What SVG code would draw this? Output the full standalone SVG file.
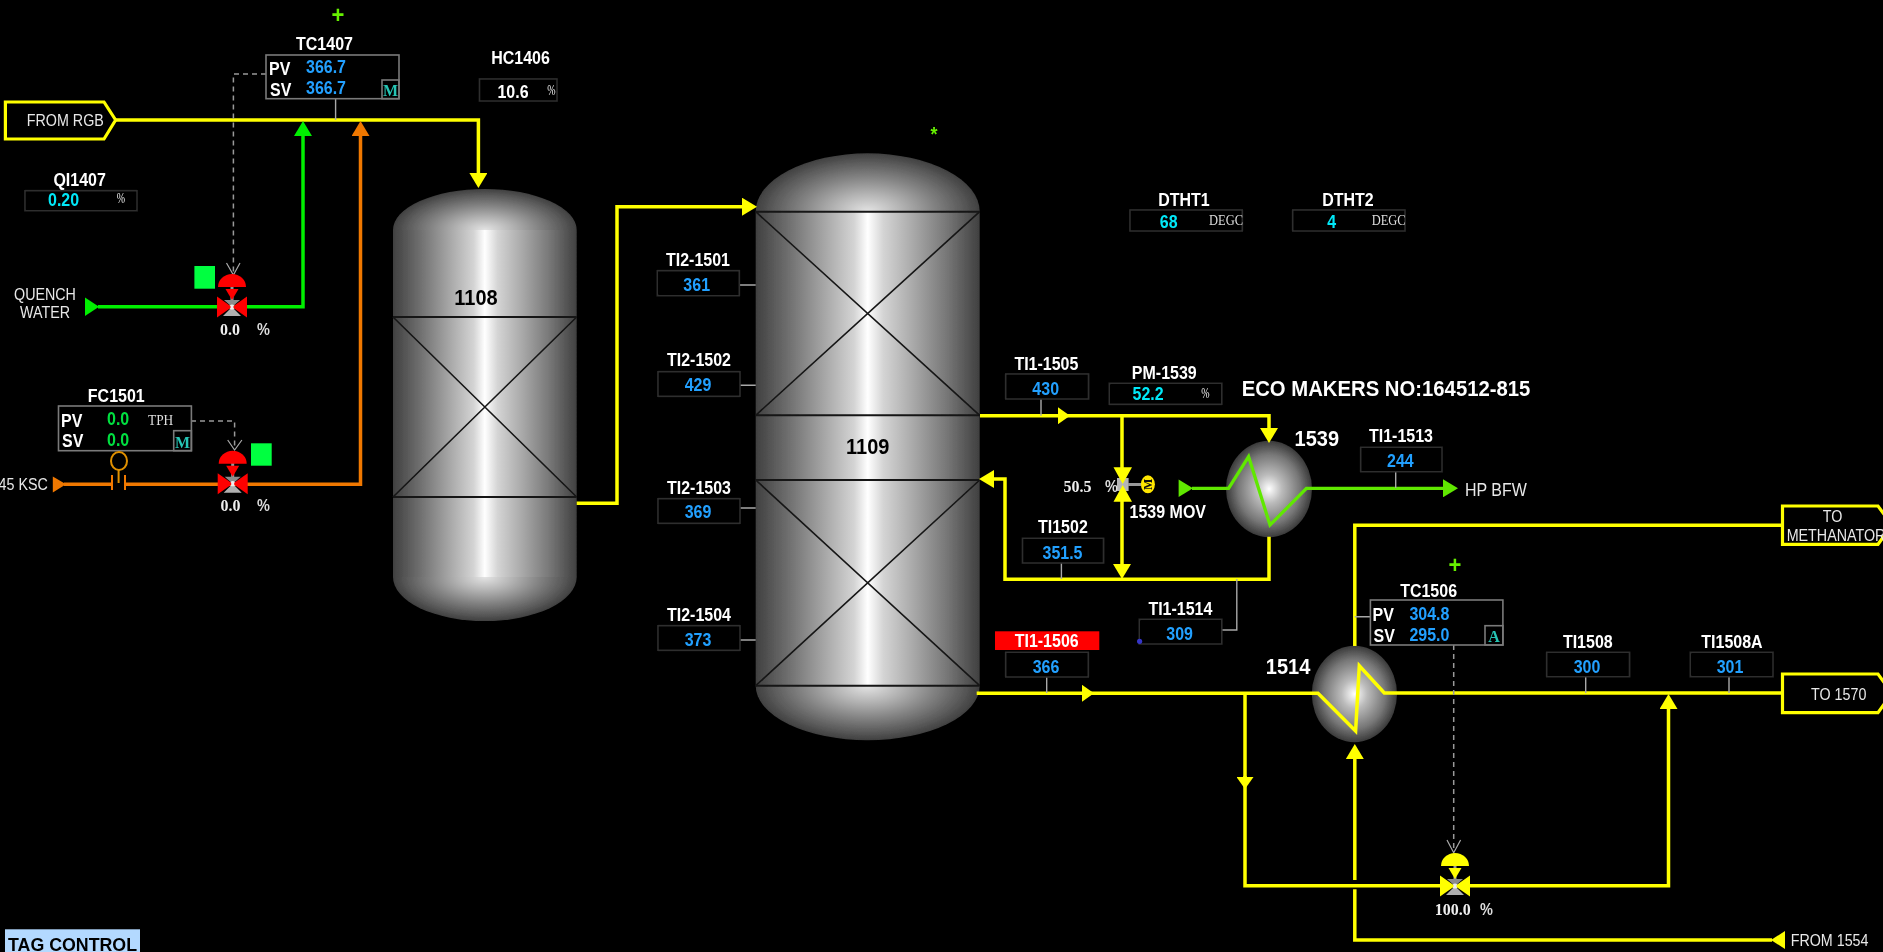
<svg xmlns="http://www.w3.org/2000/svg" xmlns:xlink="http://www.w3.org/1999/xlink" width="1883" height="952" viewBox="0 0 1883 952">
<style>
text{font-family:"Liberation Sans",Arial,sans-serif;transform-box:fill-box;transform-origin:center;transform:scaleY(1.1)}
.l{font-weight:700;font-size:16px;fill:#fff}
.m{text-anchor:middle}
.r{font-size:14.3px;fill:#e8e8e8}
.v{font-weight:700;font-size:16px;fill:#22a0ff}
.c{font-weight:700;font-size:16px;fill:#00e8f8}
.g{font-weight:700;font-size:16px;fill:#00e040}
.s{font-family:"Liberation Serif",serif;font-size:12.5px;fill:#ddd}
.n{font-family:"Liberation Serif",serif;font-weight:700;font-size:16px;fill:#eee}
.p{font-weight:700;font-size:14.5px;fill:#ddd}
.u{font-family:"Liberation Serif",serif;font-size:10px;fill:#eee;text-anchor:middle;transform:scaleY(1.45)}
.t{font-family:"Liberation Serif",serif;font-weight:700;font-size:16px;fill:#25c4b4;text-anchor:middle}
.k{font-weight:700;font-size:20px;fill:#000;text-anchor:middle}
.w{font-weight:700;font-size:20px;fill:#fff}
.pl{font-weight:700;font-size:22px;fill:#66f000;text-anchor:middle}
.box{fill:#000;stroke:#2e2e2e;stroke-width:1.6}
.ctl{fill:none;stroke:#7a7a7a;stroke-width:1.6}
.tie{stroke:#a8a8a8;stroke-width:1.4;fill:none}
.dash{stroke:#999;stroke-width:1.5;fill:none;stroke-dasharray:5 4}
.chev{stroke:#aaa;stroke-width:1.2;fill:none}
.y{stroke:#ff0;stroke-width:3.5;fill:none}
.gn{stroke:#00f000;stroke-width:3.5;fill:none}
.lg{stroke:#60e800;stroke-width:3.3;fill:none}
.o{stroke:#f07800;stroke-width:3.5;fill:none}
.ves{stroke:#161616;fill:none}
</style>
<defs>
<filter id="soft" x="0" y="0" width="100%" height="100%" filterUnits="objectBoundingBox"><feGaussianBlur stdDeviation="0.4"/></filter>
<linearGradient id="body" x1="0" y1="0" x2="1" y2="0">
<stop offset="0" stop-color="#404040"/><stop offset=".15" stop-color="#707070"/><stop offset=".3" stop-color="#a4a4a4"/><stop offset=".44" stop-color="#d4d4d4"/><stop offset=".5" stop-color="#fff"/><stop offset=".57" stop-color="#d4d4d4"/><stop offset=".7" stop-color="#aaa"/><stop offset=".85" stop-color="#787878"/><stop offset="1" stop-color="#404040"/>
</linearGradient>
<radialGradient id="domeT" cx=".5" cy="1" r="1" gradientTransform="translate(.5 1) scale(.5 1) translate(-.5 -1)">
<stop offset="0" stop-color="#e4e4e4"/><stop offset=".3" stop-color="#b4b4b4"/><stop offset=".6" stop-color="#828282"/><stop offset=".85" stop-color="#5a5a5a"/><stop offset="1" stop-color="#404040"/>
</radialGradient>
<radialGradient id="domeB" cx=".5" cy="0" r="1" gradientTransform="translate(.5 0) scale(.5 1) translate(-.5 0)">
<stop offset="0" stop-color="#e4e4e4"/><stop offset=".3" stop-color="#b4b4b4"/><stop offset=".6" stop-color="#828282"/><stop offset=".85" stop-color="#5a5a5a"/><stop offset="1" stop-color="#404040"/>
</radialGradient>
<radialGradient id="hx"><stop offset="0" stop-color="#fff"/><stop offset=".3" stop-color="#bbb"/><stop offset=".72" stop-color="#777"/><stop offset="1" stop-color="#3a3a3a"/></radialGradient>
<marker id="ay" markerUnits="userSpaceOnUse" markerWidth="16" markerHeight="18" viewBox="0 0 16 18" refX="0" refY="9" orient="auto"><path d="M0 0L15 9L0 18Z" fill="#ff0"/></marker>
<marker id="ys" markerUnits="userSpaceOnUse" markerWidth="13" markerHeight="17" viewBox="0 0 13 17" refX="0" refY="8.5" orient="auto"><path d="M0 0L12 8.5L0 17Z" fill="#ff0"/></marker>
<marker id="ag" markerUnits="userSpaceOnUse" markerWidth="16" markerHeight="18" viewBox="0 0 16 18" refX="0" refY="9" orient="auto"><path d="M0 0L15 9L0 18Z" fill="#00f000"/></marker>
<marker id="al" markerUnits="userSpaceOnUse" markerWidth="16" markerHeight="18" viewBox="0 0 16 18" refX="0" refY="9" orient="auto"><path d="M0 0L15 9L0 18Z" fill="#60e800"/></marker>
<marker id="ao" markerUnits="userSpaceOnUse" markerWidth="16" markerHeight="18" viewBox="0 0 16 18" refX="0" refY="9" orient="auto"><path d="M0 0L15 9L0 18Z" fill="#f07800"/></marker>
<g id="valve">
<rect x="-1.5" y="-22" width="3" height="18" fill="#999"/>
<path d="M-14 -20A14 13 0 0 1 14 -20Z" fill="currentColor"/>
<path d="M-6.5 -18H6.5L0 -7Z" fill="currentColor"/>
<path d="M-8 -7H8L0 0Z" fill="#8c8c8c"/>
<path d="M-9 9H9L0 0Z" fill="#b0b0b0"/>
<circle r="2.6" fill="#eee"/>
<path d="M-15 -10.5V10.5L-1.5 1V-1ZM15 -10.5V10.5L1.5 1V-1Z" fill="currentColor"/>
</g>
</defs>
<rect width="1883" height="952" fill="#000"/>
<g filter="url(#soft)">

<g id="vessel-1108">
<path d="M393 230A91.8 41 0 0 1 576.7 230Z" fill="url(#domeT)"/>
<rect x="393" y="230" width="183.7" height="347" fill="url(#body)"/>
<path d="M393 577A91.8 44 0 0 0 576.7 577Z" fill="url(#domeB)"/>
<path class="ves" stroke-width="2" d="M393 317H576.7M393 497H576.7"/>
<path class="ves" stroke-width="1.6" d="M393 317L576.7 497M576.7 317L393 497"/>
<text class="k" x="476" y="304">1108</text>
</g>
<g id="vessel-1109">
<path d="M755.7 211.7A112 58.4 0 0 1 979.7 211.7Z" fill="url(#domeT)"/>
<rect x="755.7" y="211.7" width="224" height="474" fill="url(#body)"/>
<path d="M755.7 685.7A112 54.5 0 0 0 979.7 685.7Z" fill="url(#domeB)"/>
<path class="ves" stroke-width="2" d="M755.7 211.7H979.7M755.7 415.3H979.7M755.7 480H979.7M755.7 685.7H979.7"/>
<path class="ves" stroke-width="1.6" d="M755.7 211.7L979.7 415.3M979.7 211.7L755.7 415.3M755.7 480L979.7 685.7M979.7 480L755.7 685.7"/>
<text class="k" x="867.7" y="453">1109</text>
</g>
<g id="hx-1539"><ellipse cx="1269" cy="489" rx="43" ry="48.2" fill="url(#hx)"/></g>
<g id="hx-1514"><ellipse cx="1354.4" cy="694" rx="42.6" ry="48.2" fill="url(#hx)"/></g>

<g id="connectors">
<path class="y" d="M116 120H478.4V173" marker-end="url(#ay)"/>
<path class="gn" d="M98 306.7H303V136" marker-end="url(#ag)"/>
<polygon points="85,297.5 99,306.7 85,316" fill="#00f000"/>
<path class="o" d="M64 484.3H112M125 484.3H360.5V136" marker-end="url(#ao)"/>
<polygon points="52.8,476.5 66,484.3 52.8,492.5" fill="#f07800"/>
<path class="y" d="M576.7 503.3H617V206.7H742" marker-end="url(#ay)"/>
<path class="y" d="M980 415.7H1058" marker-end="url(#ys)"/>
<path class="y" d="M1058 415.7H1269V428" marker-end="url(#ay)"/>
<path class="y" d="M1122 415.7V470"/>
<path class="y" d="M1122 498V564" marker-end="url(#ay)"/>
<path class="y" d="M1269 536.7V579.3H1005V479H994" marker-end="url(#ay)"/>
<path class="lg" d="M1192 488.3H1228.6L1248.6 456.7L1270 525L1306.4 488.3H1443" marker-end="url(#al)"/>
<polygon points="1178.6,479.5 1193,488.3 1178.6,497" fill="#60e800"/>
<path class="y" d="M976.7 693.3H1082" marker-end="url(#ys)"/>
<path class="y" d="M1082 693.3H1318L1355.6 731L1359.3 665.7L1384.3 693H1782"/>
<path class="y" d="M1354.8 646V525.3H1782.5"/>
<path class="y" d="M1245 693V885.7H1441"/>
<path class="y" d="M1245 776V777" marker-end="url(#ys)"/>
<path class="y" d="M1470 885.7H1668.5V709" marker-end="url(#ay)"/>
<path class="y" d="M1354.8 880V759" marker-end="url(#ay)"/>
<path class="y" d="M1354.8 889.3V940H1772"/>
<polygon points="1771,940 1785,931 1785,949" fill="#ff0"/>
<path class="dash" d="M266 74H233.4V272"/>
<path class="chev" d="M226.5 263L233.4 275L240 263"/>
<path class="dash" d="M191 421H234.6V448"/>
<path class="chev" d="M227.7 440L234.6 450L241.9 440"/>
<path class="dash" d="M1453.7 645V850"/>
<path class="chev" d="M1447 840L1453.7 852.7L1460.6 840"/>
<path class="tie" d="M335.6 98.7V120"/>
<path class="tie" d="M739 285H755.7M740 385.3H755.7M740 508H755.7M740 640H755.7"/>
<path class="tie" d="M1041 399V415.7M1046.7 677V693M1395.7 471.7V488M1061.4 563V579M1221.8 630H1236.8V579M1354.8 616.7H1370.4M1585.7 676.7V693M1729 676.7V693"/>
</g>

<g id="from-rgb">
<polygon points="5.4,102 104,102 115.6,120 104,139 5.4,139" fill="#000" stroke="#ff0" stroke-width="3.2"/>
<text class="r" x="26.8" y="125.5">FROM RGB</text>
</g>
<g id="to-methanator">
<polygon points="1782.5,506 1878,506 1892,525 1878,544.3 1782.5,544.3" fill="#000" stroke="#ff0" stroke-width="3.2"/>
<text class="r" x="1832.6" y="521.5" text-anchor="middle">TO</text>
<text class="r" x="1786.7" y="540">METHANATOR</text>
</g>
<g id="to-1570">
<polygon points="1782.5,674 1878,674 1892,693.3 1878,712.7 1782.5,712.7" fill="#000" stroke="#ff0" stroke-width="3.2"/>
<text class="r" x="1811" y="699">TO 1570</text>
</g>
<g id="from-1554"><text class="r" x="1790.7" y="945">FROM 1554</text></g>
<g id="quench-water">
<text class="r m" x="45" y="299">QUENCH</text>
<text class="r m" x="45" y="317.7">WATER</text>
</g>
<g id="ksc45"><text class="r" x="47.8" y="489.3" text-anchor="end">45 KSC</text></g>
<g id="hp-bfw"><text class="r" x="1465" y="495.7" style="font-size:16px">HP BFW</text></g>

<g id="tc1407">
<text class="pl" x="338" y="22">+</text>
<text class="l m" x="324.5" y="49.5">TC1407</text>
<rect class="ctl" x="266" y="55" width="133" height="43.7" fill="#000"/>
<rect class="ctl" x="382" y="80" width="17" height="18.7"/>
<text class="l" x="269" y="74.5">PV</text>
<text class="l" x="270" y="95">SV</text>
<text class="v" x="306" y="72.5">366.7</text>
<text class="v" x="306" y="93.5">366.7</text>
<text class="t" x="390.5" y="95">M</text>
</g>
<g id="hc1406">
<text class="l m" x="520.5" y="63">HC1406</text>
<rect class="box" x="479.5" y="79" width="77.5" height="22"/>
<text class="l" x="497.5" y="97">10.6</text>
<text class="u" x="551.5" y="93.5">%</text>
</g>
<g id="qi1407">
<text class="l m" x="79.6" y="185">QI1407</text>
<rect class="box" x="25" y="190.7" width="112" height="20"/>
<text class="c" x="48" y="205.5">0.20</text>
<text class="u" x="121" y="202">%</text>
</g>
<g id="fc1501">
<text class="l m" x="116.3" y="401.5">FC1501</text>
<rect class="ctl" x="58.5" y="406" width="132.9" height="44.7" fill="#000"/>
<rect class="ctl" x="173.7" y="430.7" width="17.7" height="20"/>
<text class="l" x="61" y="426">PV</text>
<text class="l" x="62" y="446.5">SV</text>
<text class="g" x="107" y="424">0.0</text>
<text class="g" x="107" y="445.5">0.0</text>
<text class="s" x="148" y="425" style="font-size:13.4px">TPH</text>
<text class="t" x="182.5" y="447">M</text>
</g>
<g id="orifice">
<path d="M112 475V490M125 475V490" stroke="#f07800" stroke-width="2" fill="none"/>
<path d="M118.6 470V483" stroke="#e09000" stroke-width="2" fill="none"/>
<ellipse cx="119" cy="461" rx="8" ry="9" fill="none" stroke="#e09000" stroke-width="2"/>
</g>
<g id="valve-quench">
<rect x="194.4" y="266" width="20.6" height="22.7" fill="#00ff40"/>
<use xlink:href="#valve" href="#valve" transform="translate(232 307)" color="#ff0000"/>
<text class="n" x="220" y="334">0.0</text>
<text class="p" x="257" y="334">%</text>
</g>
<g id="valve-fc1501">
<rect x="251" y="443.3" width="20.7" height="22.4" fill="#00ff40"/>
<use xlink:href="#valve" href="#valve" transform="translate(232.7 483.7)" color="#ff0000"/>
<text class="n" x="220.5" y="510.5">0.0</text>
<text class="p" x="257" y="510.5">%</text>
</g>
<g id="valve-tc1506">
<use xlink:href="#valve" href="#valve" transform="translate(1455 886)" color="#ffff00"/>
<text class="n" x="1434.8" y="914">100.0</text>
<text class="p" x="1480" y="914">%</text>
</g>
<g id="mov-1539">
<rect x="1117" y="478" width="11.6" height="13" fill="#b5b5b5"/>
<rect x="1128" y="483" width="13" height="3" fill="#999"/>
<path d="M1113.5 467.3H1132L1122.7 484ZM1113.5 501.7H1132L1122.7 485Z" fill="#ff0"/>
<ellipse cx="1147.9" cy="484.3" rx="7" ry="9" fill="#ffe600"/>
<g transform="translate(1147.9 484.3) rotate(-90)"><text x="0" y="4" text-anchor="middle" style="font-family:'Liberation Serif',serif;font-size:12px;font-weight:700;fill:#111;transform:none">M</text></g>
<text class="n" x="1063.6" y="491.5">50.5</text>
<text class="p" x="1105" y="491.5">%</text>
<text class="l" x="1129.6" y="517.5">1539 MOV</text>
</g>
<g id="ti2-1501"><text class="l m" x="698" y="265.5">TI2-1501</text><rect class="box" x="657.3" y="270.7" width="82" height="25"/><text class="v m" x="696.7" y="290">361</text></g>
<g id="ti2-1502"><text class="l m" x="699" y="365">TI2-1502</text><rect class="box" x="658" y="371.7" width="82" height="24.6"/><text class="v m" x="698" y="390.5">429</text></g>
<g id="ti2-1503"><text class="l m" x="699" y="493">TI2-1503</text><rect class="box" x="658" y="498.7" width="82" height="24.6"/><text class="v m" x="698" y="517.3">369</text></g>
<g id="ti2-1504"><text class="l m" x="699" y="620.5">TI2-1504</text><rect class="box" x="658" y="625.7" width="82" height="24.6"/><text class="v m" x="698" y="645.5">373</text></g>
<g id="ti1-1505"><text class="l m" x="1046.4" y="369">TI1-1505</text><rect class="box" x="1005.7" y="374" width="82.9" height="25"/><text class="v m" x="1045.7" y="394">430</text></g>
<g id="pm-1539"><text class="l m" x="1164.3" y="378">PM-1539</text><rect class="box" x="1109.3" y="383.3" width="112.5" height="21"/><text class="c" x="1132.5" y="399">52.2</text><text class="u" x="1205.4" y="397">%</text></g>
<g id="ti1-1513"><text class="l m" x="1401" y="441.5">TI1-1513</text><rect class="box" x="1360.7" y="447.3" width="81.3" height="24.4"/><text class="v m" x="1400.4" y="466.5">244</text></g>
<g id="ti1502"><text class="l m" x="1062.9" y="532.5">TI1502</text><rect class="box" x="1022.5" y="538.3" width="81.1" height="24.7"/><text class="v m" x="1062.5" y="558">351.5</text></g>
<g id="ti1-1514"><text class="l m" x="1180.4" y="614">TI1-1514</text><rect class="box" x="1139.3" y="619.3" width="82.5" height="24.7"/><text class="v m" x="1179.6" y="639">309</text><circle cx="1139.6" cy="641.3" r="2.6" fill="#3636c8"/></g>
<g id="ti1-1506"><rect x="995" y="631.3" width="104.3" height="18.7" fill="#ff0000"/><text class="l m" x="1046.7" y="646.5">TI1-1506</text><rect class="box" x="1005.7" y="652.3" width="82.6" height="24.7"/><text class="v m" x="1046" y="672">366</text></g>
<g id="ti1508"><text class="l m" x="1587.8" y="647">TI1508</text><rect class="box" x="1546.7" y="652.3" width="82.9" height="24.4"/><text class="v m" x="1587" y="672">300</text></g>
<g id="ti1508a"><text class="l m" x="1732" y="647">TI1508A</text><rect class="box" x="1690.3" y="652.3" width="82.7" height="24.4"/><text class="v m" x="1730" y="672">301</text></g>
<g id="dtht1"><text class="l m" x="1184" y="205">DTHT1</text><rect class="box" x="1130" y="210" width="112.3" height="21"/><text class="c m" x="1168.7" y="227">68</text><text class="s" x="1209" y="225">DEGC</text></g>
<g id="dtht2"><text class="l m" x="1348" y="205">DTHT2</text><rect class="box" x="1292.7" y="210" width="112.3" height="21"/><text class="c m" x="1331.7" y="227">4</text><text class="s" x="1371.7" y="225">DEGC</text></g>
<g id="tc1506">
<text class="pl" x="1455" y="572">+</text>
<text class="l m" x="1428.6" y="596.5">TC1506</text>
<rect class="ctl" x="1370.4" y="600" width="132.5" height="45" fill="#000"/>
<rect class="ctl" x="1485" y="625.7" width="17.9" height="19.3"/>
<text class="l" x="1372.5" y="620">PV</text>
<text class="l" x="1373.5" y="641">SV</text>
<text class="v" x="1409.4" y="619">304.8</text>
<text class="v" x="1409.4" y="640">295.0</text>
<text class="t" x="1494" y="641">A</text>
</g>
<g id="label-1539"><text class="w" x="1294.6" y="445">1539</text></g>
<g id="label-1514"><text class="w" x="1265.8" y="673">1514</text></g>
<g id="eco-makers"><text class="w" x="1241.7" y="395.5" style="font-size:20.3px">ECO MAKERS NO:164512-815</text></g>
<g id="star"><text class="pl" x="934" y="140" style="font-size:18px">*</text></g>
<g id="tag-control">
<rect x="5" y="929.3" width="135" height="23" fill="#b3d9ff"/>
<text x="8" y="950.5" style="font-weight:700;font-size:17.8px;fill:#000;transform:none">TAG CONTROL</text>
</g>
</g>
</svg>
